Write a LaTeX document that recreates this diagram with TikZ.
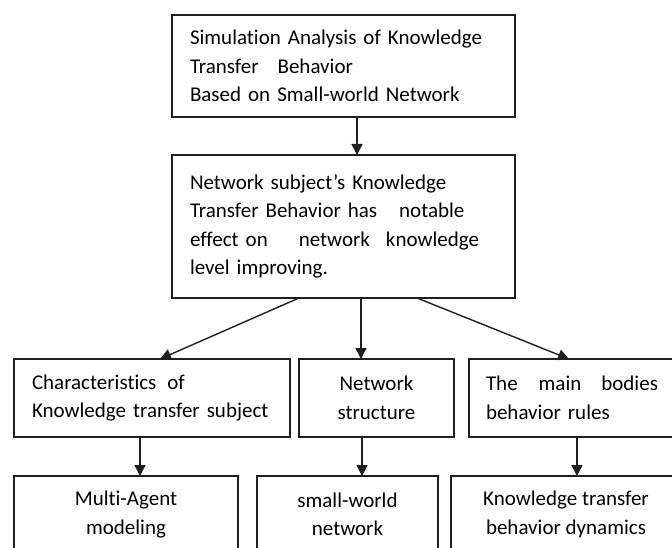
\documentclass[tikz,border=0pt]{standalone}
\usepackage{fontspec}
\setmainfont{Carlito}[Ligatures={CommonOff}]
\usetikzlibrary{arrows.meta}
\tikzset{
  frame/.style={draw=black!88, line width=1.4pt, outer sep=0pt, inner ysep=0pt,
    font=\fontsize{21}{28.5}\selectfont},
  leftbox/.style={frame, align=left, inner xsep=18pt},
  midbox/.style={frame, align=center},
  link/.style={draw=black!88, line width=1.4pt, -{Triangle[length=11pt,width=11pt]}},
}
\begin{document}
\begin{tikzpicture}[x=1pt,y=-1pt]
\useasboundingbox (0,0) rectangle (672,548);
\clip (0,0) rectangle (672,548);

% top-level study
\node[leftbox, text width=307pt, minimum width=343pt, minimum height=102pt] (top) at (343.5,66)
  {Simulation Analysis of Knowledge\\ Transfer\hspace{19pt}Behavior\\ Based on Small-world Network};

% central finding
\node[leftbox, text width=307pt, minimum width=343pt, minimum height=143pt] (sec) at (343.5,226.5)
  {Network subject{\char"0027}s Knowledge\\ Transfer Behavior has\hspace{22pt}notable\\ effect on\hspace{31pt}network\hspace{16pt}knowledge\\ level improving.};

% three aspects
\node[leftbox, text width=240pt, minimum width=276pt, minimum height=78pt] (midL) at (152,398)
  {Characteristics\hspace{11pt}of\\ Knowledge transfer subject};
\node[midbox, minimum width=155pt, minimum height=78pt] (midM) at (376.5,398)
  {Network\\ structure};
\node[leftbox, inner xsep=17pt, text width=187pt, minimum width=221pt, minimum height=78pt] (midR) at (579.5,398)
  {The\hspace{21pt}main\hspace{20pt}bodies\\ behavior rules};

% methods
\node[midbox, minimum width=224pt, minimum height=77pt] (botL) at (126,514.5)
  {Multi-Agent\\ modeling};
\node[midbox, minimum width=181pt, minimum height=77pt] (botM) at (347.5,514.5)
  {small-world\\ network};
\node[midbox, minimum width=230pt, minimum height=77pt] (botR) at (566,514.5)
  {Knowledge transfer\\ behavior dynamics};

% horizontal positions of the connector ends
\coordinate (c1) at (357,0);
\coordinate (c2) at (299,0);
\coordinate (c3) at (160,0);
\coordinate (c4) at (361,0);
\coordinate (c5) at (417,0);
\coordinate (c6) at (569,0);
\coordinate (c7) at (140,0);
\coordinate (c8) at (362,0);
\coordinate (c9) at (577,0);

\draw[link] (top.south -| c1) -- (sec.north -| c1);
\draw[link] (sec.south -| c2) -- (midL.north -| c3);
\draw[link] (sec.south -| c4) -- (midM.north -| c4);
\draw[link] (sec.south -| c5) -- (midR.north -| c6);
\draw[link] (midL.south -| c7) -- (botL.north -| c7);
\draw[link] (midM.south -| c8) -- (botM.north -| c8);
\draw[link] (midR.south -| c9) -- (botR.north -| c9);
\end{tikzpicture}
\end{document}
